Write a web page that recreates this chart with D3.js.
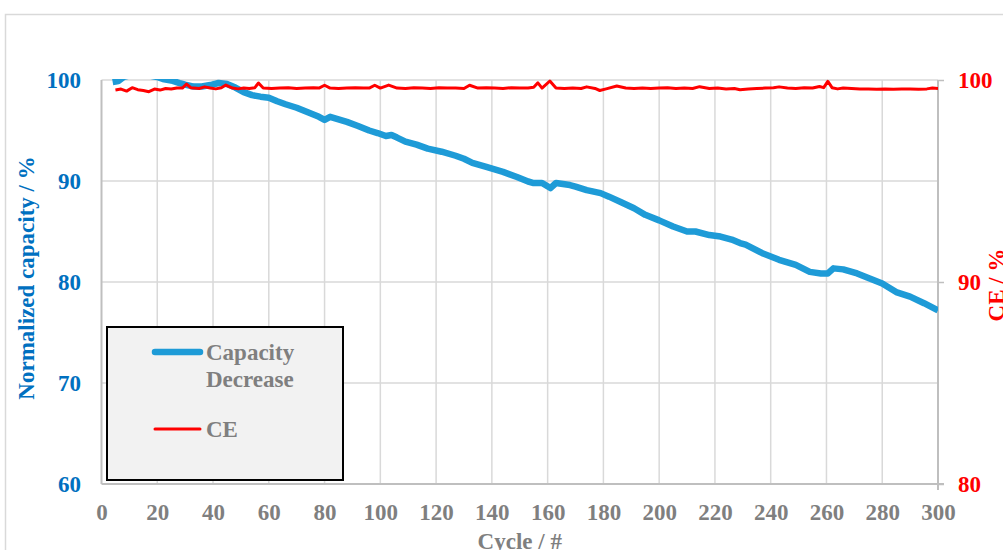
<!DOCTYPE html>
<html>
<head>
<meta charset="utf-8">
<script src="https://cdn.jsdelivr.net/npm/d3@7"></script>
<style>
  body { margin: 0; background: #fff; }
  svg text { font-family: "Liberation Serif", "Times New Roman", serif; font-weight: bold; }
</style>
</head>
<body>
<div id="chart"></div>
<script>
// capacity (left axis, %)
const capCycles = [4, 6, 8, 12, 16, 20, 22, 25, 28, 30, 33, 36, 39, 42, 45, 48, 51, 54, 57, 60, 63, 66, 70, 74, 78, 80, 82, 85, 88, 92, 96, 99, 102, 104, 106, 109, 113, 117, 122, 127, 130, 133, 138, 144, 149, 153, 155, 158, 161, 163, 168, 170, 174, 179, 182, 186, 191, 195, 200, 205, 210, 213, 218, 222, 226, 229, 231, 237, 243, 249, 254, 258, 260.5, 262.5, 266, 271, 275.5, 280, 285, 290, 295, 300];
const capValues = [99.8, 99.9, 100.3, 100.6, 100.5, 100.3, 100.1, 99.95, 99.7, 99.55, 99.35, 99.35, 99.5, 99.7, 99.6, 99.25, 98.8, 98.5, 98.35, 98.25, 97.9, 97.6, 97.25, 96.8, 96.35, 96.05, 96.35, 96.1, 95.85, 95.45, 95.0, 94.75, 94.45, 94.55, 94.3, 93.9, 93.6, 93.2, 92.9, 92.5, 92.2, 91.8, 91.4, 90.9, 90.4, 89.95, 89.8, 89.8, 89.3, 89.8, 89.6, 89.45, 89.1, 88.8, 88.45, 87.95, 87.3, 86.65, 86.1, 85.5, 85.0, 85.0, 84.65, 84.5, 84.2, 83.85, 83.7, 82.85, 82.2, 81.7, 81.0, 80.85, 80.85, 81.35, 81.25, 80.85, 80.35, 79.85, 79.0, 78.55, 77.9, 77.2];

// coulombic efficiency (right axis, %)
const ceCycles = [5, 7, 9, 11, 13, 15, 17, 19, 21, 23, 25, 27, 29, 30.5, 32, 35, 37, 39, 41, 43, 44.6, 47, 49, 51, 53, 55, 56.3, 58, 61, 64, 67, 70, 73, 76, 78, 80, 82, 85, 88, 91, 94, 96, 98, 100, 103, 106, 109, 112, 115, 118, 121, 124, 127, 130, 132, 135, 138, 141, 144, 147, 150, 153, 155, 156.5, 158, 160.8, 163, 166, 169, 172, 174, 177, 178.7, 181, 184.8, 188, 191, 194, 197, 200, 203, 206, 209, 212, 214.5, 218, 221, 224, 227, 229, 232, 235, 238, 241, 243, 246, 249, 252, 255, 257.5, 259, 260.5, 262, 264, 266, 269, 272, 275, 278, 281, 284, 287, 290, 293, 296, 298, 300];
const ceValues = [99.5, 99.55, 99.45, 99.62, 99.52, 99.48, 99.42, 99.55, 99.5, 99.58, 99.55, 99.6, 99.6, 99.8, 99.62, 99.58, 99.66, 99.6, 99.56, 99.62, 99.75, 99.6, 99.56, 99.6, 99.58, 99.62, 99.85, 99.6, 99.58, 99.6, 99.62, 99.58, 99.6, 99.62, 99.6, 99.74, 99.6, 99.58, 99.6, 99.62, 99.6, 99.6, 99.74, 99.6, 99.75, 99.6, 99.58, 99.62, 99.6, 99.58, 99.62, 99.6, 99.6, 99.58, 99.74, 99.6, 99.62, 99.6, 99.58, 99.62, 99.6, 99.6, 99.64, 99.86, 99.6, 99.95, 99.6, 99.58, 99.6, 99.58, 99.66, 99.58, 99.48, 99.56, 99.7, 99.6, 99.58, 99.6, 99.58, 99.6, 99.62, 99.58, 99.6, 99.58, 99.67, 99.58, 99.6, 99.56, 99.58, 99.52, 99.56, 99.58, 99.6, 99.62, 99.66, 99.6, 99.58, 99.62, 99.6, 99.68, 99.62, 99.93, 99.62, 99.56, 99.6, 99.58, 99.56, 99.55, 99.54, 99.56, 99.54, 99.55, 99.56, 99.54, 99.56, 99.6, 99.58];

const xTicks = d3.range(0, 301, 20);
const leftTicks = [60, 70, 80, 90, 100];
const rightTicks = [80, 90, 100];

const W = 1003, H = 550;
const plot = { left: 101.5, right: 938, top: 80, bottom: 484 };
const font = 23;

const svg = d3.select("#chart").append("svg")
    .attr("width", W)
    .attr("height", H);

// outer chart frame
svg.append("rect")
    .attr("x", 5.5).attr("y", 14.5)
    .attr("width", W + 20).attr("height", H + 20)
    .attr("fill", "none")
    .attr("stroke", "#d9d9d9")
    .attr("stroke-width", 1.5);

const x = d3.scaleLinear().domain([0, 300]).range([plot.left, plot.right]);
const yL = d3.scaleLinear().domain([60, 100]).range([plot.bottom, plot.top]);
const yR = d3.scaleLinear().domain([80, 100]).range([plot.bottom, plot.top]);

// gridlines
svg.append("g").selectAll("line")
    .data(xTicks.filter(d => d > 0 && d < 300))
    .join("line")
    .attr("x1", d => x(d)).attr("x2", d => x(d))
    .attr("y1", plot.top).attr("y2", plot.bottom)
    .attr("stroke", "#d9d9d9").attr("stroke-width", 1.5);
svg.append("g").selectAll("line")
    .data([70, 80, 90, 100])
    .join("line")
    .attr("x1", plot.left).attr("x2", plot.right)
    .attr("y1", d => yL(d)).attr("y2", d => yL(d))
    .attr("stroke", "#d9d9d9").attr("stroke-width", 1.5);

// bottom axis
const gx = svg.append("g")
    .attr("transform", `translate(0,${plot.bottom})`)
    .call(d3.axisBottom(x).tickValues(xTicks).tickSize(0).tickPadding(20));
gx.select(".domain").remove();
gx.selectAll("text").attr("fill", "#7f7f7f").style("font-size", font + "px");
svg.append("line")
    .attr("x1", plot.left).attr("x2", plot.right + 6)
    .attr("y1", plot.bottom).attr("y2", plot.bottom)
    .attr("stroke", "#bfbfbf").attr("stroke-width", 2);

// left axis
const gl = svg.append("g")
    .attr("transform", `translate(${plot.left},0)`)
    .call(d3.axisLeft(yL).tickValues(leftTicks).tickSize(0).tickPadding(20.5));
gl.select(".domain").remove();
gl.selectAll("text").attr("fill", "#0070c0").style("font-size", font + "px");
svg.append("line")
    .attr("x1", plot.left).attr("x2", plot.left)
    .attr("y1", plot.top).attr("y2", plot.bottom)
    .attr("stroke", "#bfbfbf").attr("stroke-width", 2);

// right axis
const gr = svg.append("g")
    .attr("transform", `translate(${plot.right},0)`)
    .call(d3.axisRight(yR).tickValues(rightTicks).tickSize(6).tickPadding(14));
gr.select(".domain").remove();
gr.selectAll("line").attr("stroke", "#bfbfbf").attr("stroke-width", 1.5);
gr.selectAll("text").attr("fill", "#ff0000").style("font-size", font + "px");
svg.append("line")
    .attr("x1", plot.right).attr("x2", plot.right)
    .attr("y1", plot.top).attr("y2", plot.bottom + 6)
    .attr("stroke", "#bfbfbf").attr("stroke-width", 2);

// axis titles
svg.append("text")
    .attr("transform", `translate(34,${(plot.top + plot.bottom) / 2 - 4}) rotate(-90)`)
    .attr("text-anchor", "middle")
    .attr("fill", "#0070c0")
    .style("font-size", font + "px")
    .text("Normalized capacity / %");
svg.append("text")
    .attr("transform", `translate(1004,${(plot.top + plot.bottom) / 2 + 3}) rotate(-90)`)
    .attr("text-anchor", "middle")
    .attr("fill", "#ff0000")
    .style("font-size", font + "px")
    .text("CE / %");
svg.append("text")
    .attr("x", (plot.left + plot.right) / 2)
    .attr("y", 549)
    .attr("text-anchor", "middle")
    .attr("fill", "#7f7f7f")
    .style("font-size", font + "px")
    .text("Cycle / #");

// lines, clipped to the plot area
svg.append("clipPath").attr("id", "plotclip")
    .append("rect")
    .attr("x", plot.left).attr("y", plot.top - 1)
    .attr("width", plot.right - plot.left).attr("height", plot.bottom - plot.top + 1);

const capData = capCycles.map((c, i) => [c, capValues[i]]);
const ceData = ceCycles.map((c, i) => [c, ceValues[i]]);

svg.append("path")
    .datum(capData)
    .attr("clip-path", "url(#plotclip)")
    .attr("fill", "none")
    .attr("stroke", "#1e9bd7")
    .attr("stroke-width", 6.5)
    .attr("stroke-linejoin", "round")
    .attr("d", d3.line().x(d => x(d[0])).y(d => yL(d[1])));

svg.append("path")
    .datum(ceData)
    .attr("clip-path", "url(#plotclip)")
    .attr("fill", "none")
    .attr("stroke", "#ff0000")
    .attr("stroke-width", 3)
    .attr("stroke-linejoin", "round")
    .attr("d", d3.line().x(d => x(d[0])).y(d => yR(d[1])));

// legend
const lg = svg.append("g");
lg.append("rect")
    .attr("x", 107).attr("y", 327)
    .attr("width", 236).attr("height", 153)
    .attr("fill", "#f2f2f2")
    .attr("stroke", "#000").attr("stroke-width", 2);
lg.append("line")
    .attr("x1", 155).attr("x2", 200).attr("y1", 352).attr("y2", 352)
    .attr("stroke", "#1e9bd7").attr("stroke-width", 6.5).attr("stroke-linecap", "round");
lg.append("line")
    .attr("x1", 155).attr("x2", 200).attr("y1", 429).attr("y2", 429)
    .attr("stroke", "#ff0000").attr("stroke-width", 3).attr("stroke-linecap", "round");
lg.append("text").attr("x", 206).attr("y", 360)
    .attr("fill", "#7f7f7f").style("font-size", font + "px").text("Capacity");
lg.append("text").attr("x", 206).attr("y", 387)
    .attr("fill", "#7f7f7f").style("font-size", font + "px").text("Decrease");
lg.append("text").attr("x", 206).attr("y", 437)
    .attr("fill", "#7f7f7f").style("font-size", font + "px").text("CE");
</script>
</body>
</html>
